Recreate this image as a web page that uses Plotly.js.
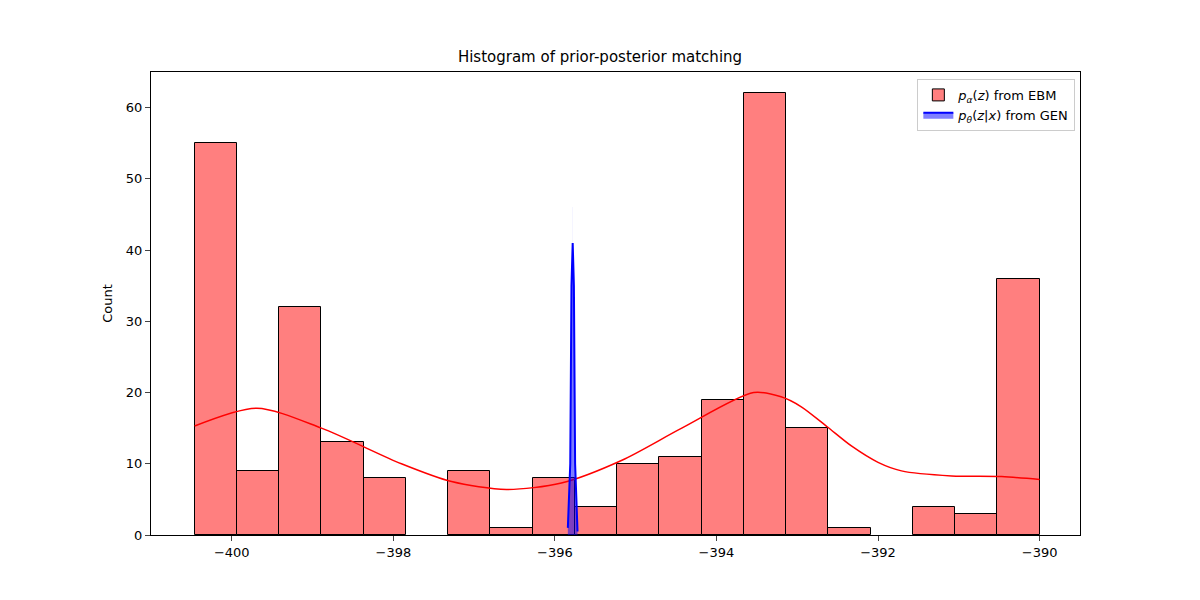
<!DOCTYPE html>
<html>
<head>
<meta charset="utf-8">
<script src="https://cdn.plot.ly/plotly-2.35.2.min.js"></script>
<style>body{margin:0;background:#fff}#chart{width:1200px;height:600px}</style>
</head>
<body>
<div id="chart"></div>
<script>
// EBM prior histogram: 20 bins from -400.46 to -390.0 (null = empty bin)
let bin_start = -400.46;
let bin_width = 0.523;
let ebm_counts = [55, 9, 32, 13, 8, null, 9, 1, 8, 4, 10, 11, 19, 62, 15, 1, null, 4, 3, 36];

// EBM KDE curve
let ebm_kde_x = [-400.46, -399.69, -398.89, -397.90, -397.28, -396.60, -395.92, -395.17, -394.43, -393.54, -393.2, -392.95, -392.63, -392.33, -392.0, -391.71, -391.09, -390.47, -390.0];
let ebm_kde_y = [15.3, 17.8, 15.0, 10.0, 7.5, 6.4, 7.3, 10.5, 15.0, 20.0, 19.4, 18.0, 15.2, 12.5, 10.2, 9.0, 8.3, 8.2, 7.8];

// GEN posterior: very narrow spike
let gen_x = [-395.84, -395.81, -395.795, -395.78, -395.765, -395.75, -395.72];
let gen_y = [1, 10, 35, 41, 35, 10, 0.5];
let gen_bar_x = [-395.78];
let gen_bar_y = [46];

let bin_centers = [];
for (let k = 0; k < ebm_counts.length; k++) {
    bin_centers.push(bin_start + bin_width * (k + 0.5));
}

let data = [
    {
        type: "bar", x: bin_centers, y: ebm_counts, width: bin_width,
        marker: { color: "rgba(255,0,0,0.5)", line: { color: "black", width: 1 } },
        name: "<i>p</i><sub><i>α</i></sub>(<i>z</i>) from EBM"
    },
    {
        type: "scatter", mode: "lines", x: ebm_kde_x, y: ebm_kde_y,
        line: { color: "red", width: 1.5, shape: "spline", smoothing: 0.8 }, showlegend: false
    },
    {
        type: "bar", x: gen_bar_x, y: gen_bar_y, width: 0.006,
        marker: { color: "rgba(0,0,255,0.5)", line: { width: 0 } }, opacity: 0.08, showlegend: false
    },
    {
        type: "scatter", mode: "lines", x: gen_x, y: gen_y, fill: "tozeroy",
        fillcolor: "rgba(0,0,255,0.5)", line: { color: "blue", width: 2 },
        name: "<i>p</i><sub><i>θ</i></sub>(<i>z</i>|<i>x</i>) from GEN"
    }
];

let layout = {
    width: 1200, height: 600,
    margin: { l: 151, r: 120, t: 72, b: 65 },
    paper_bgcolor: "white", plot_bgcolor: "white",
    font: { family: "DejaVu Sans", size: 13, color: "black" },
    title: { text: "Histogram of prior-posterior matching", x: 0.5, xanchor: "center", y: 0.915, font: { size: 15 } },
    barmode: "overlay", bargap: 0,
    xaxis: {
        range: [-401.0, -389.5], tickvals: [-400, -398, -396, -394, -392, -390],
        ticktext: ["−400", "−398", "−396", "−394", "−392", "−390"],
        showgrid: false, zeroline: false, showline: true, mirror: true, linecolor: "black",
        ticks: "outside", ticklen: 5
    },
    yaxis: {
        range: [0, 65], dtick: 10, title: { text: "Count", standoff: 10, font: { size: 13 } },
        showgrid: false, zeroline: false, showline: true, mirror: true, linecolor: "black",
        ticks: "outside", ticklen: 5
    },
    legend: {
        x: 0.995, xanchor: "right", y: 0.985, yanchor: "top",
        bordercolor: "#ccc", borderwidth: 1, bgcolor: "rgba(255,255,255,0.8)",
        traceorder: "normal", font: { size: 13 }
    },
    showlegend: true
};

Plotly.newPlot("chart", data, layout, { displayModeBar: false });
</script>
</body>
</html>
